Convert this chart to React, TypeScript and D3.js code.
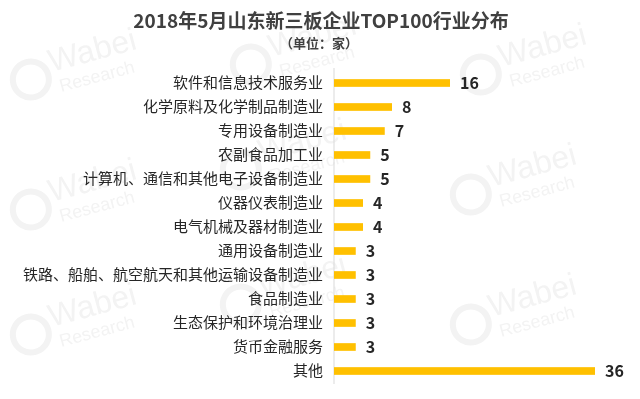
import * as d3 from "d3";

const categories = [
  "软件和信息技术服务业",
  "化学原料及化学制品制造业",
  "专用设备制造业",
  "农副食品加工业",
  "计算机、通信和其他电子设备制造业",
  "仪器仪表制造业",
  "电气机械及器材制造业",
  "通用设备制造业",
  "铁路、船舶、航空航天和其他运输设备制造业",
  "食品制造业",
  "生态保护和环境治理业",
  "货币金融服务",
  "其他",
];
const values = [16, 8, 7, 5, 5, 4, 4, 3, 3, 3, 3, 3, 36];

const title = "2018年5月山东新三板企业TOP100行业分布";
const subtitle = "（单位：家）";

// faint watermark spots
const marks = [
  [40, 75], [260, 60], [490, 70],
  [40, 205], [250, 165], [480, 190],
  [40, 330], [250, 300], [480, 320],
];

const W = 640;
const H = 399;
const font = "'Noto Sans CJK SC', 'Noto Sans', sans-serif";

export default function App() {
  const x0 = 334;
  const x = d3.scaleLinear().domain([0, 36]).range([x0, 595]);
  const y = d3
    .scaleBand()
    .domain(categories)
    .range([71, 383])
    .paddingInner(0.68)
    .paddingOuter(0.34);

  return (
    <svg
      width={W}
      height={H}
      style={{ position: "absolute", left: 0, top: 0, background: "#fff" }}
      fontFamily={font}
    >
      <g opacity={0.06} fill="#333">
        {marks.map(([mx, my], i) => (
          <g key={i} transform={`translate(${mx},${my}) rotate(-15)`}>
            <text fontSize={32} fontFamily="Arial, sans-serif" x={12}>
              Wabei
            </text>
            <text fontSize={18} fontFamily="Arial, sans-serif" x={16} y={22}>
              Research
            </text>
            <circle cx={-10} cy={2} r={18} fill="none" stroke="#333" strokeWidth={6} />
          </g>
        ))}
      </g>

      <text x={321} y={28} textAnchor="middle" fontSize={19} fontWeight="bold" fill="#404040">
        {title}
      </text>
      <text x={319} y={48} textAnchor="middle" fontSize={13} fontWeight="bold" fill="#404040">
        {subtitle}
      </text>

      <line x1={x0} x2={x0} y1={68} y2={384} stroke="#d9d9d9" strokeWidth={1} />

      {categories.map((c, i) => {
        const yy = y(c)!;
        const bh = y.bandwidth();
        return (
          <g key={c}>
            <text
              x={323}
              y={yy + bh / 2}
              dy="0.36em"
              textAnchor="end"
              fontSize={15}
              fill="#262626"
            >
              {c}
            </text>
            <rect x={x0} y={yy} width={x(values[i]) - x0} height={bh} fill="#FFC000" />
            <text
              x={x(values[i]) + 10}
              y={yy + bh / 2}
              dy="0.36em"
              fontSize={16}
              fontWeight="bold"
              fill="#262626"
            >
              {values[i]}
            </text>
          </g>
        );
      })}
    </svg>
  );
}
